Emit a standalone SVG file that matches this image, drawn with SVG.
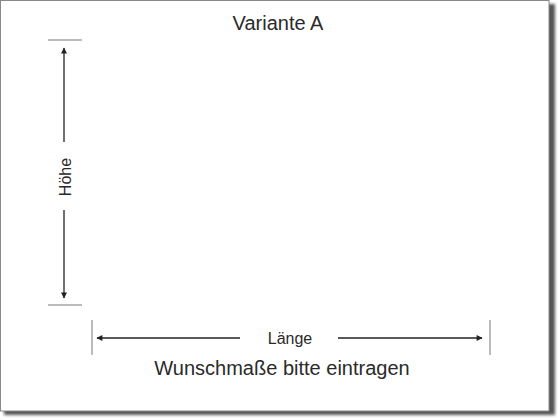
<svg xmlns="http://www.w3.org/2000/svg" width="560" height="420" viewBox="0 0 560 420">
<defs>
<filter id="blur" x="-5%" y="-5%" width="110%" height="110%"><feGaussianBlur stdDeviation="1.5"/></filter>
<marker id="ah" viewBox="0 0 10 10" refX="9" refY="5" markerWidth="8" markerHeight="6" markerUnits="userSpaceOnUse" orient="auto"><path d="M0,0 L10,5 L0,10 Z" fill="#222"/></marker>
<style>
.t{font-family:"Liberation Sans",Arial,sans-serif;fill:#2a2a2a;text-anchor:middle}
.ln{stroke:#222;stroke-width:1.3;fill:none}
.tick{stroke:#777;stroke-width:1;fill:none}
</style>
</defs>
<rect x="4" y="4" width="551" height="411" fill="#555" filter="url(#blur)"/>
<rect x="0.5" y="0.5" width="548.5" height="410.5" fill="#fff" stroke="#888" stroke-width="1"/>
<g id="title"><text class="t" x="278" y="29.5" font-size="20">Variante A</text></g>
<g id="hoehe">
<line class="tick" x1="48" y1="40" x2="82" y2="40"/>
<line class="tick" x1="48" y1="305" x2="82" y2="305"/>
<text class="t" font-size="16" transform="translate(71,177) rotate(-90)">Höhe</text>
</g>
<g id="laenge">
<line class="tick" x1="92" y1="320" x2="92" y2="355"/>
<line class="tick" x1="490" y1="320" x2="490" y2="355"/>
<text class="t" x="290" y="344" font-size="16">Länge</text>
</g>
<g id="hint"><text class="t" x="282" y="375" font-size="20">Wunschmaße bitte eintragen</text></g>
<g id="connectors">
<line class="ln" x1="64" y1="142" x2="64" y2="48" marker-end="url(#ah)"/>
<line class="ln" x1="64" y1="210" x2="64" y2="298" marker-end="url(#ah)"/>
<line class="ln" x1="240" y1="338" x2="97" y2="338" marker-end="url(#ah)"/>
<line class="ln" x1="338" y1="338" x2="482" y2="338" marker-end="url(#ah)"/>
</g>
</svg>
